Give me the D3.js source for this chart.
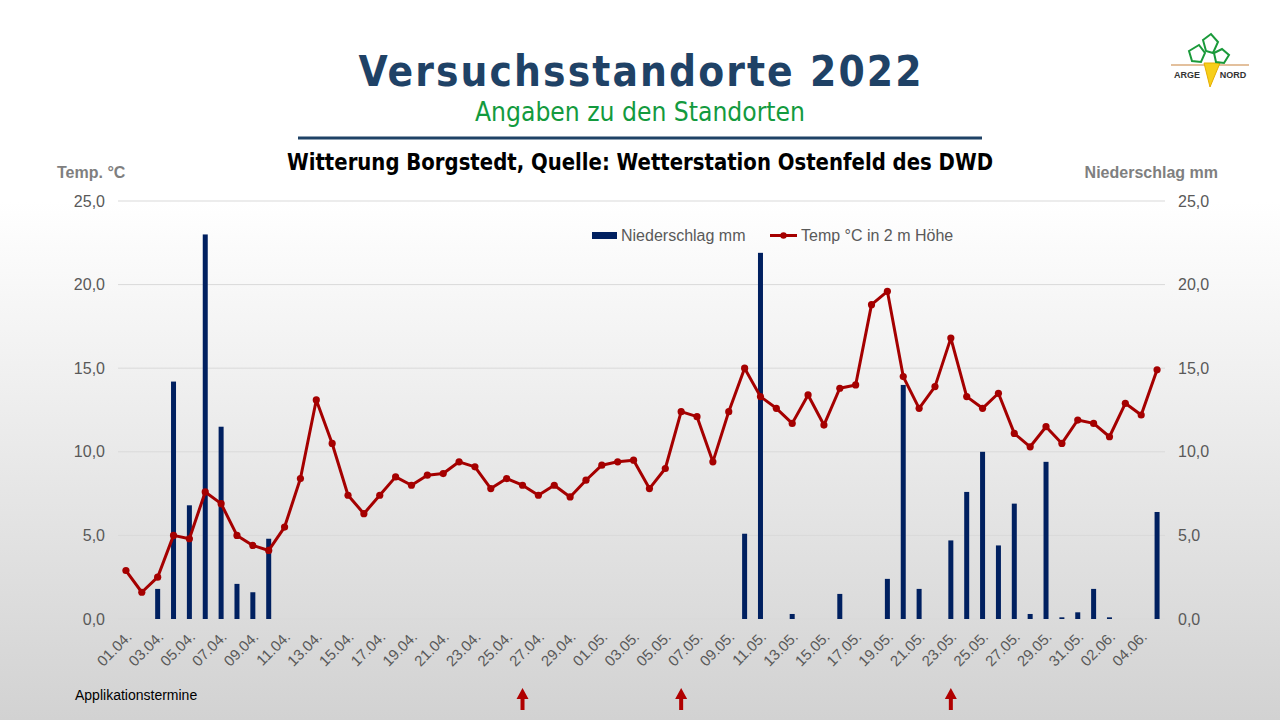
<!DOCTYPE html>
<html>
<head>
<meta charset="utf-8">
<script src="https://cdn.jsdelivr.net/npm/d3@7"></script>
<style>
body { margin: 0; overflow: hidden; }
</style>
</head>
<body>
<script>
// Tage 01.04. bis 05.06.
var dates = ["01.04.","02.04.","03.04.","04.04.","05.04.","06.04.","07.04.","08.04.","09.04.","10.04.",
    "11.04.","12.04.","13.04.","14.04.","15.04.","16.04.","17.04.","18.04.","19.04.","20.04.",
    "21.04.","22.04.","23.04.","24.04.","25.04.","26.04.","27.04.","28.04.","29.04.","30.04.",
    "01.05.","02.05.","03.05.","04.05.","05.05.","06.05.","07.05.","08.05.","09.05.","10.05.",
    "11.05.","12.05.","13.05.","14.05.","15.05.","16.05.","17.05.","18.05.","19.05.","20.05.",
    "21.05.","22.05.","23.05.","24.05.","25.05.","26.05.","27.05.","28.05.","29.05.","30.05.","31.05.",
    "01.06.","02.06.","03.06.","04.06.","05.06."];

// Niederschlag mm
var niederschlag = [0,0,1.8,14.2,6.8,23.0,11.5,2.1,1.6,4.8,
    0,0,0,0,0,0,0,0,0,0,
    0,0,0,0,0,0,0,0,0,0,
    0,0,0,0,0,0,0,0,0,5.1,
    21.9,0,0.3,0,0,1.5,0,0,2.4,14.0,
    1.8,0,4.7,7.6,10.0,4.4,6.9,0.3,9.4,0.1,0.4,
    1.8,0.1,0,0,6.4];

// Temp °C in 2 m Höhe
var temperatur = [2.9,1.6,2.5,5.0,4.8,7.6,6.9,5.0,4.4,4.1,
    5.5,8.4,13.1,10.5,7.4,6.3,7.4,8.5,8.0,8.6,
    8.7,9.4,9.1,7.8,8.4,8.0,7.4,8.0,7.3,8.3,
    9.2,9.4,9.5,7.8,9.0,12.4,12.1,9.4,12.4,15.0,
    13.3,12.6,11.7,13.4,11.6,13.8,14.0,18.8,19.6,14.5,
    12.6,13.9,16.8,13.3,12.6,13.5,11.1,10.3,11.5,10.5,11.9,
    11.7,10.9,12.9,12.2,14.9];

var yTicks = [0, 5, 10, 15, 20, 25];
var applikationen = ["26.04.", "06.05.", "23.05."];

var barColor = "#002060";
var lineColor = "#a50000";
var axisGray = "#595959";
var arial = "Liberation Sans, Arial, sans-serif";
var tahoma = "DejaVu Sans Condensed, DejaVu Sans, sans-serif";

var svg = d3.select("body")
    .append("svg")
    .attr("width", 1280)
    .attr("height", 720);

// Hintergrund-Verlauf wie auf der Folie
var grad = svg.append("defs").append("linearGradient")
    .attr("id", "bg")
    .attr("x1", 0).attr("y1", 0).attr("x2", 0).attr("y2", 1);
grad.append("stop").attr("offset", "0%").attr("stop-color", "#ffffff");
grad.append("stop").attr("offset", "28%").attr("stop-color", "#ffffff");
grad.append("stop").attr("offset", "100%").attr("stop-color", "#d2d2d2");

svg.append("rect")
    .attr("width", 1280)
    .attr("height", 720)
    .attr("fill", "url(#bg)");

// Kopf
svg.append("text")
    .attr("x", 640).attr("y", 86)
    .attr("text-anchor", "middle")
    .attr("font-family", tahoma)
    .attr("font-weight", "bold")
    .attr("font-size", 42)
    .attr("textLength", 563)
    .attr("lengthAdjust", "spacing")
    .attr("fill", "#1f4266")
    .text("Versuchsstandorte 2022");

svg.append("text")
    .attr("x", 640).attr("y", 121)
    .attr("text-anchor", "middle")
    .attr("font-family", tahoma)
    .attr("font-size", 26)
    .attr("textLength", 330)
    .attr("lengthAdjust", "spacingAndGlyphs")
    .attr("fill", "#139a3e")
    .text("Angaben zu den Standorten");

svg.append("line")
    .attr("x1", 298).attr("x2", 982)
    .attr("y1", 138).attr("y2", 138)
    .attr("stroke", "#1f4266")
    .attr("stroke-width", 3);

svg.append("text")
    .attr("x", 640).attr("y", 170)
    .attr("text-anchor", "middle")
    .attr("font-family", tahoma)
    .attr("font-weight", "bold")
    .attr("font-size", 23)
    .attr("textLength", 706)
    .attr("lengthAdjust", "spacingAndGlyphs")
    .attr("fill", "#000000")
    .text("Witterung Borgstedt, Quelle: Wetterstation Ostenfeld des DWD");

// Logo ARGE NORD
var logo = svg.append("g").attr("class", "logo");
logo.append("line")
    .attr("x1", 1171).attr("x2", 1249).attr("y1", 65).attr("y2", 65)
    .attr("stroke", "#c8813c").attr("stroke-width", 1.2);
logo.append("path")
    .attr("d", "M1204,63 L1210,87 L1220,63 Z")
    .attr("fill", "#f7cf1a").attr("stroke", "#e6ad00").attr("stroke-width", 1);
logo.append("path")
    .attr("d", "M1189,51 L1199,45 L1205,53 L1201,62 L1192,61 Z")
    .attr("fill", "none").attr("stroke", "#1a9a3a").attr("stroke-width", 2);
logo.append("path")
    .attr("d", "M1203,40 L1211,34 L1218,42 L1213,53 L1206,51 Z")
    .attr("fill", "none").attr("stroke", "#1a9a3a").attr("stroke-width", 2);
logo.append("path")
    .attr("d", "M1214,53 L1222,49 L1229,55 L1224,63 L1216,62 Z")
    .attr("fill", "none").attr("stroke", "#1a9a3a").attr("stroke-width", 2);
logo.append("text")
    .attr("x", 1187).attr("y", 78)
    .attr("text-anchor", "middle")
    .attr("font-family", arial)
    .attr("font-weight", "bold").attr("font-size", 9)
    .attr("fill", "#333333")
    .text("ARGE");
logo.append("text")
    .attr("x", 1233).attr("y", 78)
    .attr("text-anchor", "middle")
    .attr("font-family", arial)
    .attr("font-weight", "bold").attr("font-size", 9)
    .attr("fill", "#333333")
    .text("NORD");

// Skalen
var x = d3.scaleBand()
    .domain(dates)
    .range([118, 1165]);

var y = d3.scaleLinear()
    .domain([0, 25])
    .range([619, 201]);

var fmt = function(d) { return d3.format(".1f")(d).replace(".", ","); };
var cx = function(d) { return x(d) + x.bandwidth() / 2; };

// Gitterlinien
svg.append("g")
    .selectAll("line")
    .data(yTicks)
    .enter()
    .append("line")
    .attr("x1", 118).attr("x2", 1165)
    .attr("y1", function(d) { return y(d); })
    .attr("y2", function(d) { return y(d); })
    .attr("stroke", "#d9d9d9")
    .attr("stroke-width", 1);

// Achsen
var leftAxis = svg.append("g")
    .attr("transform", "translate(118,0)")
    .call(d3.axisLeft(y).tickValues(yTicks).tickFormat(fmt).tickSize(0).tickPadding(13));

var rightAxis = svg.append("g")
    .attr("transform", "translate(1165,0)")
    .call(d3.axisRight(y).tickValues(yTicks).tickFormat(fmt).tickSize(0).tickPadding(13));

var bottomAxis = svg.append("g")
    .attr("transform", "translate(0,619)")
    .call(d3.axisBottom(x)
        .tickValues(dates.filter(function(d, i) { return i % 2 == 0; }))
        .tickSize(0));

[leftAxis, rightAxis, bottomAxis].forEach(function(a) {
    a.select(".domain").remove();
    a.selectAll("text")
        .attr("fill", axisGray)
        .attr("font-family", arial);
});
leftAxis.selectAll("text").attr("font-size", 16);
rightAxis.selectAll("text").attr("font-size", 16);

bottomAxis.selectAll("text")
    .attr("font-size", 15)
    .attr("text-anchor", "end")
    .attr("dy", "0.35em")
    .attr("y", 0)
    .attr("transform", "translate(3,15) rotate(-45)");

// Achsentitel
svg.append("text")
    .attr("x", 57).attr("y", 178)
    .attr("font-family", arial)
    .attr("font-weight", "bold")
    .attr("font-size", 16)
    .attr("fill", "#7f7f7f")
    .text("Temp. °C");

svg.append("text")
    .attr("x", 1218).attr("y", 178)
    .attr("text-anchor", "end")
    .attr("font-family", arial)
    .attr("font-weight", "bold")
    .attr("font-size", 16)
    .attr("fill", "#7f7f7f")
    .text("Niederschlag mm");

// Niederschlag (Balken, 0-Werte ohne Balken)
var barW = 5;
svg.append("g")
    .selectAll("rect")
    .data(dates)
    .enter()
    .filter(function(d, i) { return niederschlag[i] > 0; })
    .append("rect")
    .attr("x", function(d) { return cx(d) - barW / 2; })
    .attr("width", barW)
    .attr("y", function(d) { return y(niederschlag[dates.indexOf(d)]); })
    .attr("height", function(d) { return y(0) - y(niederschlag[dates.indexOf(d)]); })
    .attr("fill", barColor);

// Temperatur
var line = d3.line()
    .x(function(d, i) { return cx(dates[i]); })
    .y(function(d) { return y(d); });

svg.append("path")
    .datum(temperatur)
    .attr("d", line)
    .attr("fill", "none")
    .attr("stroke", lineColor)
    .attr("stroke-width", 3)
    .attr("stroke-linejoin", "round");

svg.append("g")
    .selectAll("circle")
    .data(temperatur)
    .enter()
    .append("circle")
    .attr("cx", function(d, i) { return cx(dates[i]); })
    .attr("cy", function(d) { return y(d); })
    .attr("r", 3.6)
    .attr("fill", lineColor);

// Legende
var legend = svg.append("g").attr("font-family", arial).attr("font-size", 16).attr("fill", axisGray);
legend.append("rect").attr("x", 592).attr("y", 232).attr("width", 25).attr("height", 7).attr("fill", barColor);
legend.append("text").attr("x", 621).attr("y", 241).text("Niederschlag mm");
legend.append("line").attr("x1", 770).attr("x2", 797).attr("y1", 235.5).attr("y2", 235.5)
    .attr("stroke", lineColor).attr("stroke-width", 3);
legend.append("circle").attr("cx", 783.5).attr("cy", 235.5).attr("r", 3.2).attr("fill", lineColor);
legend.append("text").attr("x", 801).attr("y", 241).text("Temp °C in 2 m Höhe");

// Applikationstermine
svg.append("text")
    .attr("x", 75).attr("y", 700)
    .attr("font-family", arial)
    .attr("font-size", 14)
    .attr("fill", "#000000")
    .text("Applikationstermine");

svg.append("g")
    .selectAll("path")
    .data(applikationen)
    .enter()
    .append("path")
    .attr("d", function(d) {
        var c = cx(d);
        return "M" + c + ",688 L" + (c + 6) + ",699 L" + (c + 2) + ",699 L" + (c + 2) + ",710 L" +
            (c - 2) + ",710 L" + (c - 2) + ",699 L" + (c - 6) + ",699 Z";
    })
    .attr("fill", "#b00000");
</script>
</body>
</html>
